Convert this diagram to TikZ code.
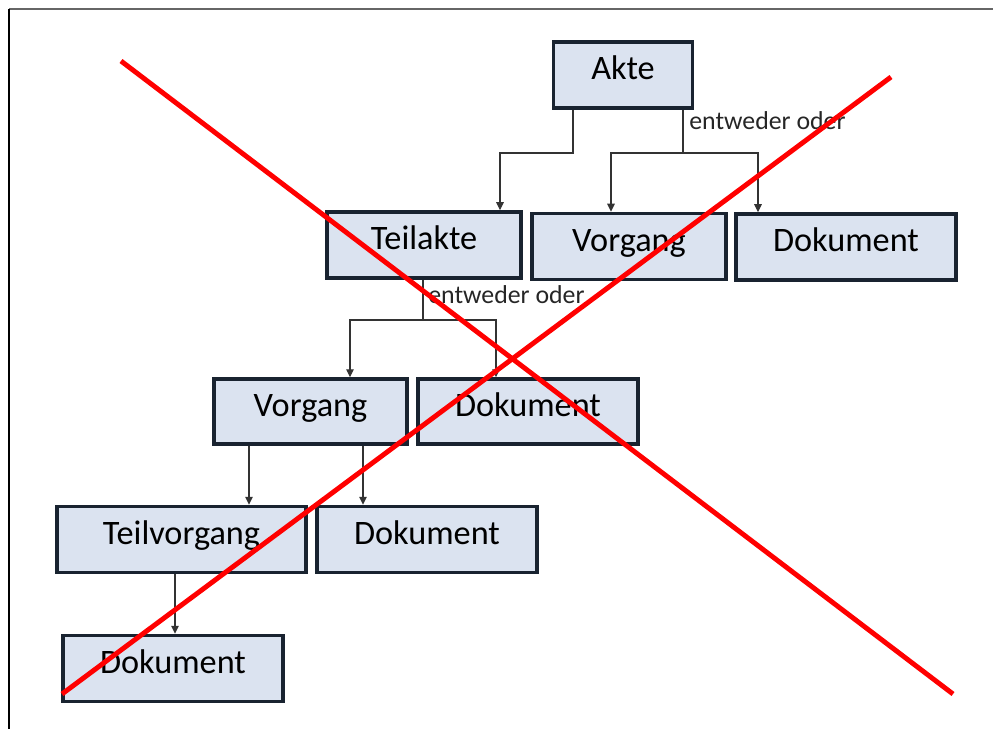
\documentclass[tikz,border=0pt]{standalone}
\usepackage{fontspec}
\setmainfont{Carlito}
\usetikzlibrary{arrows.meta}
\definecolor{boxfill}{RGB}{219,227,240}
\definecolor{boxline}{RGB}{25,35,48}

\begin{document}
\begin{tikzpicture}[x=0.02cm,y=-0.02cm,
    box/.style={draw=boxline,fill=boxfill,line width=2pt,minimum height=1.32cm,inner sep=0pt,
      text height=0.5cm,text depth=0.3cm,font=\fontsize{19.5}{23}\selectfont},
    wire/.style={draw=black!80,line width=0.6pt},
    conn/.style={wire,-{Triangle[length=1.6mm,width=1.5mm]}},
    choice/.style={font=\fontsize{14.7}{17}\selectfont,text=black!85,inner sep=0pt,anchor=west},
    cross/.style={draw=red,line width=2.8pt}]
    \useasboundingbox (0,0) rectangle (993,729);
    \draw[black!60,line width=1.1pt] (9,9)--(993,9);
    \draw[black,line width=0.6pt] (9,9)--(9,729);
    \node[box,minimum width=2.78cm] (a) at (623,75) {Akte};
    \node[box,minimum width=3.88cm] (ba) at (424,245) {Teilakte};
    \node[box,minimum width=3.88cm] (bb) at (629,246.5) {Vorgang};
    \node[box,minimum width=4.4cm] (bc) at (846,247) {Dokument};
    \node[box,minimum width=3.86cm,minimum height=1.3cm] (ca) at (310.5,411.5) {Vorgang};
    \node[box,minimum width=4.4cm,minimum height=1.3cm] (cb) at (528,411.5) {Dokument};
    \node[box,minimum width=4.98cm] (da) at (181.5,539.5) {Teilvorgang};
    \node[box,minimum width=4.4cm] (db) at (427,539.5) {Dokument};
    \node[box,minimum width=4.4cm] (ea) at (173,668.5) {Dokument};
    \node[choice] (oa) at (689,121) {entweder oder};
    \node[choice] (ob) at (428,295) {entweder oder};
    \coordinate (ja) at (573,153);
    \coordinate (jb) at (500,153);
    \coordinate (jc) at (683,153);
    \coordinate (jd) at (611,153);
    \coordinate (je) at (758,153);
    \coordinate (jf) at (423,320);
    \coordinate (jg) at (350,320);
    \coordinate (jh) at (496,320);
    \coordinate (ji) at (249,475);
    \coordinate (jk) at (363,475);
    \coordinate (jl) at (175,604);
    \draw[conn] (a.south -| ja)--(ja)--(jb)--(ba.north -| jb);
    \draw[wire] (a.south -| jc)--(jc);
    \draw[conn] (jc)--(jd)--(bb.north -| jd);
    \draw[conn] (jc)--(je)--(bc.north -| je);
    \draw[wire] (ba.south -| jf)--(jf);
    \draw[conn] (jf)--(jg)--(ca.north -| jg);
    \draw[conn] (jf)--(jh)--(cb.north -| jh);
    \draw[conn] (ca.south -| ji)--(da.north -| ji);
    \draw[conn] (ca.south -| jk)--(db.north -| jk);
    \draw[conn] (da.south -| jl)--(ea.north -| jl);
    \draw[cross] (121,61)--(953,694);
    \draw[cross] (62,694)--(891,77);
  \end{tikzpicture}
\end{document}
